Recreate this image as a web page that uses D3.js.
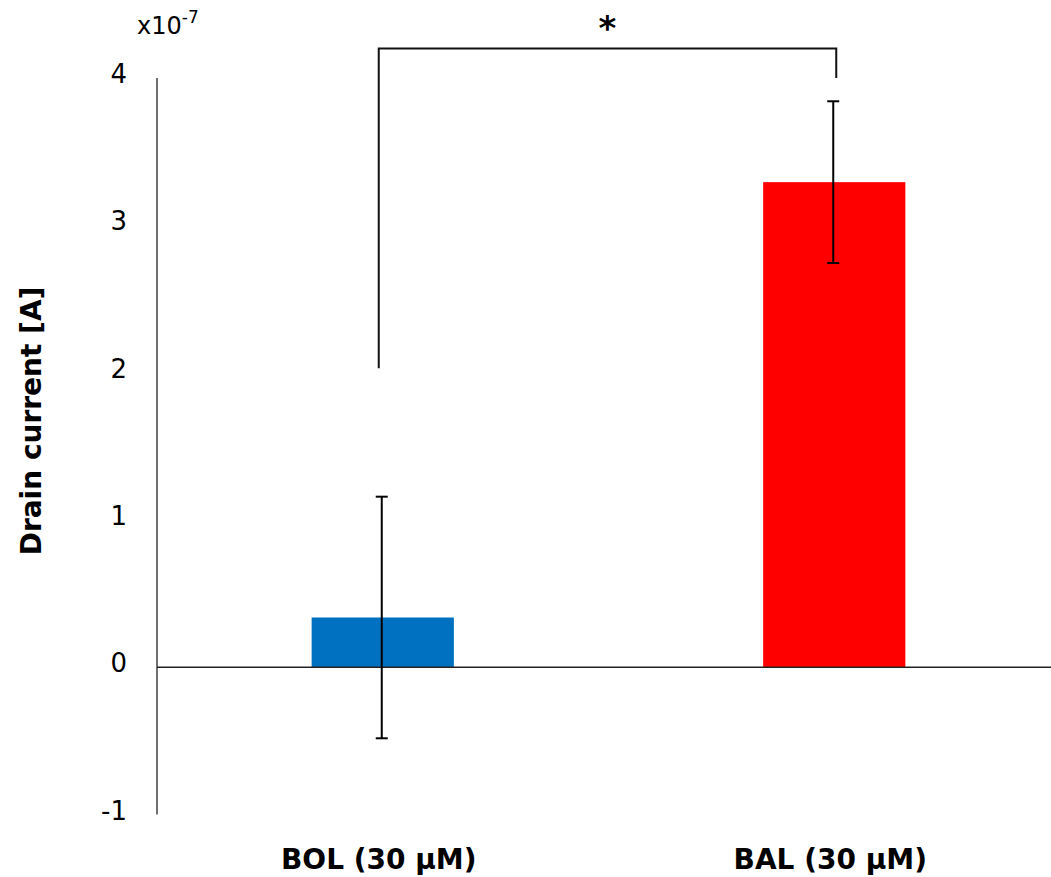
<!DOCTYPE html>
<html lang="en">
  <head>
    <meta charset="UTF-8" />
    <title>Drain current - BOL vs BAL</title>
    <script src="https://d3js.org/d3.v7.min.js"></script>
    <style>
      body { margin: 0; background: #fff; }
      text { font-family: "DejaVu Sans", Verdana, sans-serif; fill: #000; }
    </style>
  </head>
  <body>
    <svg id="chart" width="1051" height="877"></svg>

    <script>
      // data (values in units of 1e-7 A)
      const categories = ["BOL (30 μM)", "BAL (30 μM)"];
      const means = [0.338, 3.293];
      const errors = [0.82, 0.549];
      const colors = ["#0070C0", "#FF0000"];
      const yTicks = [-1, 0, 1, 2, 3, 4];
      // significance bracket: left leg bottom, bar height, right leg bottom
      const bracket = [2.03, 4.2, 4.0];

      const svg = d3.select("#chart");

      const x = d3.scaleBand().domain(categories).range([157, 1060]).padding(0);
      const y = d3.scaleLinear().domain([-1, 4]).range([814.6, 78]);

      const barW = x.bandwidth() * 0.315;
      const cx = (d) => x(d) + x.bandwidth() / 2;

      // y axis line
      svg.append("line")
        .attr("x1", 157).attr("x2", 157)
        .attr("y1", y(4)).attr("y2", y(-1))
        .attr("stroke", "#222").attr("stroke-width", 1.3);

      // tick labels
      svg.selectAll(".ytick")
        .data(yTicks)
        .enter()
        .append("text")
        .attr("x", 127)
        .attr("y", (d) => y(d) + 5)
        .attr("text-anchor", "end")
        .attr("font-size", 26)
        .text((d) => d);

      // exponent label
      const ex = svg.append("text").attr("x", 137).attr("y", 34).attr("font-size", 24);
      ex.append("tspan").text("x10");
      ex.append("tspan").attr("dy", -11).attr("font-size", 17).text("-7");

      // axis title
      svg.append("text")
        .attr("transform", `translate(41,421) rotate(-90)`)
        .attr("text-anchor", "middle")
        .attr("font-size", 28)
        .attr("font-weight", "bold")
        .text("Drain current [A]");

      // bars
      svg.selectAll(".bar")
        .data(categories)
        .enter()
        .append("rect")
        .attr("x", (d) => cx(d) - barW / 2)
        .attr("width", barW)
        .attr("y", (d, i) => y(Math.max(0, means[i])))
        .attr("height", (d, i) => Math.abs(y(means[i]) - y(0)))
        .attr("fill", (d, i) => colors[i]);

      // zero line
      svg.append("line")
        .attr("x1", 157).attr("x2", 1060)
        .attr("y1", y(0)).attr("y2", y(0))
        .attr("stroke", "#222").attr("stroke-width", 1.5);

      // error bars
      categories.forEach((c, i) => {
        const xc = cx(c) - 1;
        const lo = y(means[i] - errors[i]);
        const hi = y(means[i] + errors[i]);
        const g = svg.append("g").attr("stroke", "#000").attr("stroke-width", 2);
        g.append("line").attr("x1", xc).attr("x2", xc).attr("y1", lo).attr("y2", hi);
        g.append("line").attr("x1", xc - 6).attr("x2", xc + 6).attr("y1", lo).attr("y2", lo);
        g.append("line").attr("x1", xc - 6).attr("x2", xc + 6).attr("y1", hi).attr("y2", hi);
      });

      // x category labels
      svg.selectAll(".xlab")
        .data(categories)
        .enter()
        .append("text")
        .attr("x", (d) => cx(d) - 4)
        .attr("y", 869)
        .attr("text-anchor", "middle")
        .attr("font-size", 28)
        .attr("font-weight", "bold")
        .text((d) => d);

      // significance bracket
      const bx1 = cx(categories[0]) - 4;
      const bx2 = cx(categories[1]) + 2;
      svg.append("path")
        .attr("d", `M${bx1},${y(bracket[0])}V${y(bracket[1])}H${bx2}V${y(bracket[2])}`)
        .attr("fill", "none")
        .attr("stroke", "#111")
        .attr("stroke-width", 2);

      svg.append("text")
        .attr("x", (bx1 + bx2) / 2)
        .attr("y", 40)
        .attr("text-anchor", "middle")
        .attr("font-size", 34)
        .attr("font-weight", "bold")
        .text("*");
    </script>
  </body>
</html>
